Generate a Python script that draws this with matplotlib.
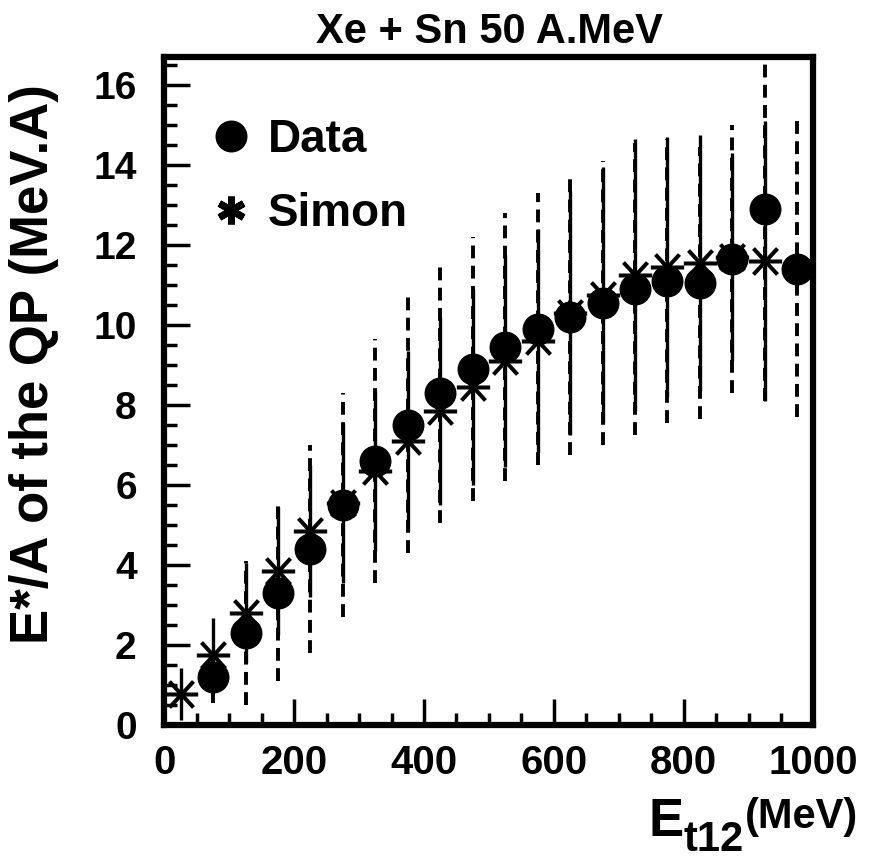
import numpy as np
import matplotlib
matplotlib.use("Agg")
import matplotlib.pyplot as plt
from matplotlib.lines import Line2D
from matplotlib.path import Path
from matplotlib.ticker import MultipleLocator

plt.rcParams['font.family'] = ['Liberation Sans', 'DejaVu Sans']
plt.rcParams['font.weight'] = 'bold'

# data points (filled circles), dashed error bars
data_x = [75, 125, 175, 225, 275, 325, 375, 425, 475, 525,
          575, 625, 675, 725, 775, 825, 875, 925, 975]
data_y = [1.2, 2.3, 3.3, 4.4, 5.5, 6.6, 7.5, 8.3, 8.9, 9.45,
          9.9, 10.2, 10.55, 10.9, 11.1, 11.05, 11.65, 12.9, 11.4]
data_err = [0.65, 1.8, 2.2, 2.6, 2.8, 3.05, 3.2, 3.25, 3.3, 3.35,
            3.4, 3.45, 3.55, 3.65, 3.55, 3.4, 3.35, 4.8, 3.7]

# Simon simulation (stars), solid error bars
simon_x = [25, 75, 125, 175, 225, 275, 325, 375, 425, 475,
           525, 575, 625, 675, 725, 775, 825, 875, 925]
simon_y = [0.78, 1.75, 2.8, 3.85, 4.85, 5.55, 6.35, 7.1, 7.85, 8.45,
           9.1, 9.6, 10.3, 10.75, 11.25, 11.45, 11.55, 11.7, 11.6]
simon_err = [0.65, 0.92, 1.25, 1.6, 1.65, 2.0, 2.0, 2.25, 2.35, 2.45,
             2.65, 2.8, 3.05, 3.2, 3.4, 3.25, 3.2, 2.6, 3.5]

# asterisk: horizontal bar + an X
star = Path([(-1, 0), (1, 0), (-0.72, -0.78), (0.72, 0.78), (-0.72, 0.78), (0.72, -0.78)],
            [Path.MOVETO, Path.LINETO, Path.MOVETO, Path.LINETO, Path.MOVETO, Path.LINETO])

fig = plt.figure(figsize=(8.7, 8.63), dpi=100)
ax = fig.add_axes([0.189, 0.160, 0.746, 0.774])

# error bars
ax.vlines(simon_x, np.array(simon_y) - np.array(simon_err),
          np.array(simon_y) + np.array(simon_err),
          colors='k', linewidth=2.4, zorder=2)
ax.vlines(data_x, np.array(data_y) - np.array(data_err),
          np.array(data_y) + np.array(data_err),
          colors='k', linewidth=2.8, linestyles=(0, (3.3, 1.9)), zorder=2)

ax.plot(simon_x, simon_y, ls='none', marker=star, ms=24, mew=2.9,
        mec='k', mfc='none', zorder=3)
ax.plot(data_x, data_y, ls='none', marker='o', ms=22, mfc='k', mec='k', zorder=4)

ax.set_xlim(0, 1000)
ax.set_ylim(0, 16.7)

ax.xaxis.set_major_locator(MultipleLocator(200))
ax.xaxis.set_minor_locator(MultipleLocator(50))
ax.yaxis.set_major_locator(MultipleLocator(2))
ax.yaxis.set_minor_locator(MultipleLocator(0.5))

ax.tick_params(which='both', direction='in', top=False, right=False, width=2.5)
ax.tick_params(which='major', length=19, labelsize=28, pad=14)
ax.tick_params(axis='x', which='major', labelsize=29)
ax.tick_params(axis='y', which='major', pad=20)
ax.tick_params(which='minor', length=9)
for lab in ax.get_xticklabels() + ax.get_yticklabels():
    lab.set_fontweight('bold')

for sp in ax.spines.values():
    sp.set_linewidth(4.5)

ax.set_title('Xe + Sn 50 A.MeV', fontsize=30, fontweight='bold', pad=10)

ax.set_ylabel('E*/A of the QP (MeV.A)', fontsize=38, fontweight='bold')
ax.yaxis.set_label_coords(-0.163, 0.54)

# x label built from pieces: E, subscript t12, raised (MeV)
tE = fig.text(648 / 870, 1 - 836 / 863, 'E', fontsize=38, fontweight='bold',
              ha='left', va='baseline')
tsub = ax.annotate('t12', xy=(1, 0), xycoords=tE, xytext=(0.5, -9.1),
                   textcoords='offset points', fontsize=30, fontweight='bold',
                   ha='left', va='bottom', annotation_clip=False)
ax.annotate('(MeV)', xy=(1, 0), xycoords=tsub, xytext=(0.5, 16.6),
            textcoords='offset points', fontsize=30, fontweight='bold',
            ha='left', va='bottom', annotation_clip=False)

handles = [Line2D([], [], ls='none', marker='o', ms=22, color='k'),
           Line2D([], [], ls='none', marker=(6, 2, 0), ms=20, mew=5, color='k')]
ax.legend(handles, ['Data', 'Simon'], loc='upper left', frameon=False,
          prop={'size': 33, 'weight': 'bold'}, handletextpad=0.25,
          labelspacing=0.65, bbox_to_anchor=(0.0, 0.97), handlelength=1.1)

fig.savefig('out.png', dpi=100)
